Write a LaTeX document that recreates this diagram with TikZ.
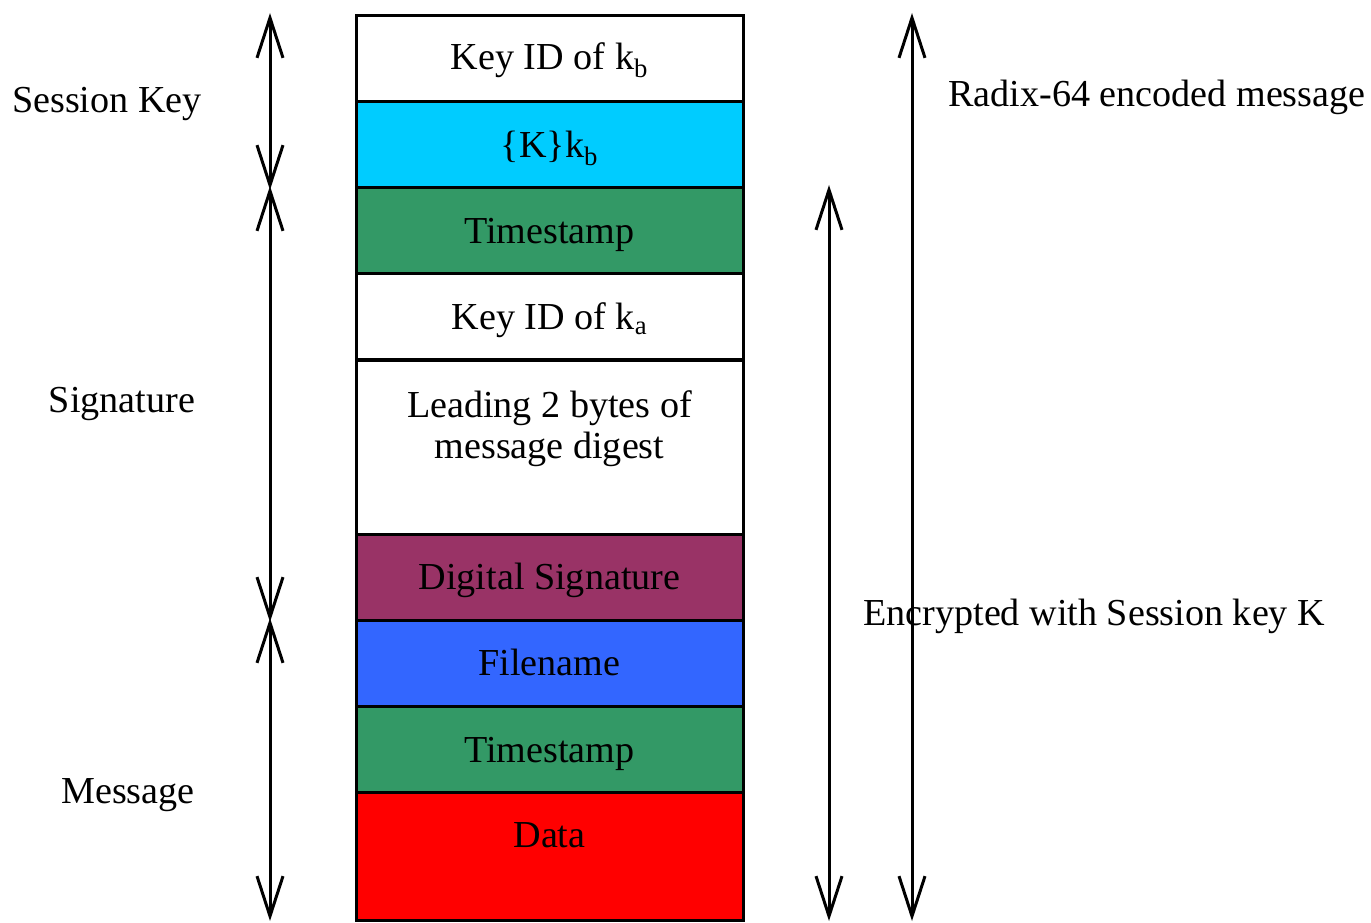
\documentclass[tikz,border=0pt]{standalone}
\usepackage{fontspec}
\setmainfont{Liberation Serif}
\usetikzlibrary{arrows.meta}
\definecolor{ccyan}{HTML}{00CCFF}
\definecolor{cgreen}{HTML}{339966}
\definecolor{cpurple}{HTML}{993366}
\definecolor{cblue}{HTML}{3366FF}
\definecolor{cred}{HTML}{FF0000}
\tikzset{
  box/.style={draw=black, line width=2.25pt, minimum width=290.25pt, inner sep=0pt, outer sep=0pt, anchor=north},
  rowh/.style={minimum height=64.5pt},
  txt/.style={anchor=base, inner sep=0pt, font=\fontsize{28.6}{34}\selectfont},
  dimarrow/.style={line width=2.25pt, {Straight Barb[length=30pt, width=19.5pt, line width=2.25pt]}-{Straight Barb[length=30pt, width=19.5pt, line width=2.25pt]}}
}
\begin{document}
\begin{tikzpicture}[x=0.75pt, y=-0.75pt]
\useasboundingbox (0,0) rectangle (1371,923);
% boxes
\node[box, rowh, fill=white]   (r1) at (549.5,16) {};
\node[box, rowh, fill=ccyan]   (r2) at (549.5,102) {};
\node[box, rowh, fill=cgreen]  (r3) at (549.5,188) {};
\node[box, rowh, fill=white]   (r4) at (549.5,274) {};
\node[box, minimum height=129.75pt, fill=white] (r5) at (549.5,361) {};
\node[box, rowh, fill=cpurple] (r6) at (549.5,534) {};
\node[box, rowh, fill=cblue]   (r7) at (549.5,620) {};
\node[box, rowh, fill=cgreen]  (r8) at (549.5,706) {};
\node[box, minimum height=96pt, fill=cred] (r9) at (549.5,792) {};
% box texts
\node[txt] (t1) at (549.5,70) {Key ID of k\textsubscript{b}};
\node[txt] (t2) at (549.5,158) {\{K\}k\textsubscript{b}};
\node[txt] (t3) at (549.5,244) {Timestamp};
\node[txt] (t4) at (549.5,330) {Key ID of k\textsubscript{a}};
\node[txt] (t5a) at (549.5,418) {Leading 2 bytes of};
\node[txt] (t5b) at (549.5,459) {message digest};
\node[txt] (t6) at (549.5,589) {Digital Signature};
\node[txt] (t7) at (549.5,675) {Filename};
\node[txt] (t8) at (549.5,762) {Timestamp};
\node[txt] (t9) at (549.5,847) {Data};
% left labels
\node[txt] (lsk) at (107,113) {Session Key};
\node[txt] (lsig) at (122,413) {Signature};
\node[txt] (lmsg) at (128,803) {Message};
% left arrows
\coordinate (a1t) at (270,13);
\coordinate (a1b) at (270,190);
\coordinate (a2t) at (270,186);
\coordinate (a2b) at (270,622);
\coordinate (a3t) at (270,618);
\coordinate (a3b) at (270,921);
\draw[dimarrow] (a1t) -- (a1b);
\draw[dimarrow] (a2t) -- (a2b);
\draw[dimarrow] (a3t) -- (a3b);
% right arrows
\coordinate (e1t) at (829,185);
\coordinate (e1b) at (829,921);
\coordinate (x1t) at (912,13);
\coordinate (x1b) at (912,921);
\draw[dimarrow] (e1t) -- (e1b);
\draw[dimarrow] (x1t) -- (x1b);
% right labels
\node[txt, anchor=base west] (lrad) at (948,107) {Radix-64 encoded message};
\node[txt, anchor=base west] (lenc) at (863,625) {Encrypted with Session key K};
\end{tikzpicture}
\end{document}
